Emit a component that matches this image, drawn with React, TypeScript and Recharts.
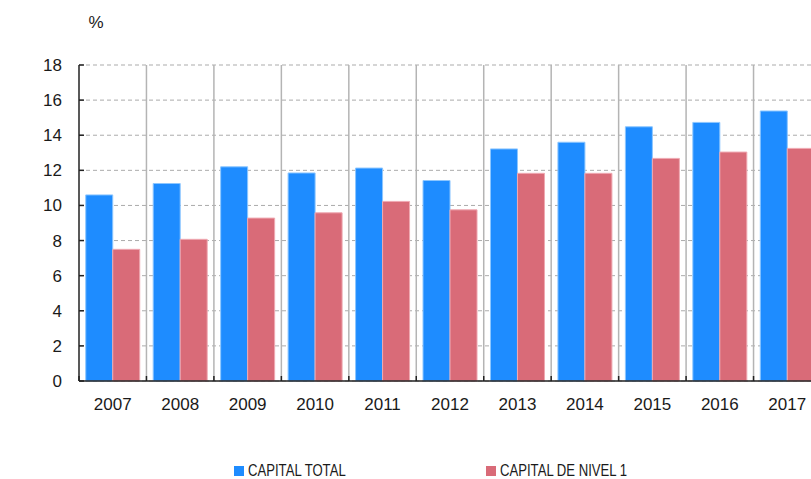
import React from 'react';
import { BarChart, Bar, XAxis, YAxis, CartesianGrid, ReferenceLine } from 'recharts';

const years = ['2007', '2008', '2009', '2010', '2011', '2012', '2013', '2014', '2015', '2016', '2017'];
const capitalTotal = [10.6, 11.25, 12.2, 11.85, 12.13, 11.42, 13.22, 13.6, 14.48, 14.73, 15.38];
const capitalNivel1 = [7.5, 8.07, 9.28, 9.58, 10.23, 9.75, 11.83, 11.83, 12.68, 13.04, 13.25];
const yTicks = [0, 2, 4, 6, 8, 10, 12, 14, 16, 18];
const seriesNames = ['CAPITAL TOTAL', 'CAPITAL DE NIVEL 1'];
const colors = ['#1E8CFF', '#D96B78'];
const strokes = ['#8CC6FF', '#EFA9B2'];

const data = years.map((y, i) => ({ year: y, total: capitalTotal[i], nivel1: capitalNivel1[i] }));

const FONT = "'Liberation Sans', Arial, Helvetica, sans-serif";

const XTick = (props: any) => {
  const { x, y, payload } = props;
  const off = payload && typeof payload.offset === 'number' ? payload.offset : 33.75;
  const axisY = y - 17;
  return (
    <g>
      <line x1={x - off} x2={x - off} y1={axisY - 5} y2={axisY} stroke="#222" strokeWidth={1.5} />
      <text x={x} y={y} dy="0.71em" textAnchor="middle" fontSize={17} fill="#1a1a1a" fontFamily={FONT}>
        {payload.value}
      </text>
    </g>
  );
};

const PercentLabel = (props: any) => {
  const vb = props.viewBox || {};
  return (
    <text x={(vb.x || 0) + (vb.width || 0) + 17} y={(vb.y || 0) - 37} textAnchor="middle" fontSize={17} fill="#1a1a1a" fontFamily={FONT}>
      %
    </text>
  );
};

export default function App() {
  return (
    <div style={{ position: 'fixed', left: 8, top: 8, width: 803, height: 471, overflow: 'hidden', fontFamily: FONT, background: '#fff' }}>
      <BarChart
        width={830}
        height={471}
        data={data}
        margin={{ top: 57, right: 17, left: 0, bottom: 68 }}
        barCategoryGap="10%"
        barGap={0}
      >
        <CartesianGrid vertical={false} stroke="#ababab" strokeDasharray="4 3" />
        {years.slice(1).map((y) => (
          <ReferenceLine key={y} x={y} position="start" stroke="#b4b4b4" strokeWidth={1.5} ifOverflow="visible" />
        ))}
        <XAxis
          dataKey="year"
          height={30}
          tickSize={0}
          tickMargin={17}
          tickLine={false}
          axisLine={{ stroke: '#222', strokeWidth: 1.5 }}
          tick={<XTick />}
          interval={0}
        />
        <YAxis
          width={71}
          domain={[0, 18]}
          ticks={yTicks}
          interval={0}
          tickSize={-5}
          tickMargin={22}
          axisLine={{ stroke: '#222', strokeWidth: 1.5 }}
          tickLine={{ stroke: '#222', strokeWidth: 1.5 }}
          tick={{ fontSize: 17, fill: '#1a1a1a', fontFamily: FONT }}
          label={<PercentLabel />}
        />
        <Bar dataKey="total" name={seriesNames[0]} fill={colors[0]} stroke={strokes[0]} strokeWidth={1} isAnimationActive={false} />
        <Bar dataKey="nivel1" name={seriesNames[1]} fill={colors[1]} stroke={strokes[1]} strokeWidth={1} isAnimationActive={false} />
      </BarChart>
      {seriesNames.map((n, i) => (
        <div
          key={n}
          style={{
            position: 'absolute',
            left: i === 0 ? 226 : 478,
            top: 455,
            display: 'flex',
            alignItems: 'center',
            fontFamily: FONT,
            fontSize: 16,
            color: '#1a1a1a',
            lineHeight: '16px',
            whiteSpace: 'nowrap',
          }}
        >
          <span style={{ display: 'inline-block', width: 10, height: 10, background: colors[i], marginRight: 4 }} />
          <span style={{ display: 'inline-block', transform: 'scaleX(0.82)', transformOrigin: 'left center' }}>{n}</span>
        </div>
      ))}
    </div>
  );
}
